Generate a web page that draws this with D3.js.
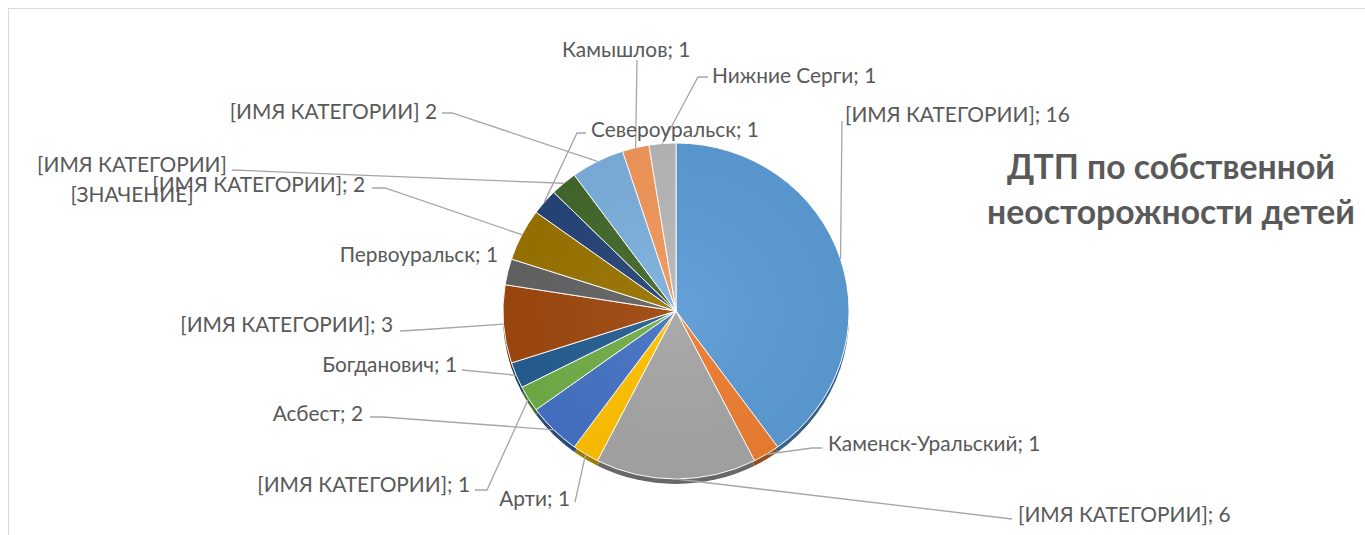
<!DOCTYPE html>
<html><head><meta charset="utf-8">
<script src="https://cdn.jsdelivr.net/npm/d3@7/dist/d3.min.js"></script>
<style>html,body{margin:0;padding:0;background:#fff;overflow:hidden}</style>
</head><body>
<svg id="c" width="1365" height="535"></svg>
<script>
// ---- data ----
const categories = ["[ИМЯ КАТЕГОРИИ]", "Каменск-Уральский", "[ИМЯ КАТЕГОРИИ]", "Арти", "Асбест",
  "[ИМЯ КАТЕГОРИИ]", "Богданович", "[ИМЯ КАТЕГОРИИ]", "Первоуральск", "[ИМЯ КАТЕГОРИИ]",
  "Североуральск", "[ИМЯ КАТЕГОРИИ]", "[ИМЯ КАТЕГОРИИ]", "Камышлов", "Нижние Серги"];
const values = [16, 1, 6, 1, 2, 1, 1, 3, 1, 2, 1, 1, 2, 1, 1];
const labelTexts = ["[ИМЯ КАТЕГОРИИ]; 16", "Каменск-Уральский; 1", "[ИМЯ КАТЕГОРИИ]; 6", "Арти; 1",
  "Асбест; 2", "[ИМЯ КАТЕГОРИИ]; 1", "Богданович; 1", "[ИМЯ КАТЕГОРИИ]; 3", "Первоуральск; 1",
  "[ИМЯ КАТЕГОРИИ]; 2", "Североуральск; 1", ["[ИМЯ КАТЕГОРИИ]", "[ЗНАЧЕНИЕ]"],
  "[ИМЯ КАТЕГОРИИ] 2", "Камышлов; 1", "Нижние Серги; 1"];
const titleLines = ["ДТП по собственной", "неосторожности детей"];
const colors = ["#5B9BD5", "#ED7D31", "#A5A5A5", "#FFC000", "#4472C4", "#70AD47", "#255E91",
  "#9E480E", "#636363", "#997300", "#264478", "#43682B", "#7CAFDD", "#F1975A", "#B7B7B7"];

// ---- layout (label placement, leader elbows) ----
const labelLayout = [
  {x: 845, y: 113, a: "start", pts: [[842, 121]]},
  {x: 828, y: 442, a: "start", pts: [[822, 448], [812, 448]]},
  {x: 1018, y: 513, a: "start", pts: [[1012, 519]]},
  {x: 570, y: 497, a: "end", pts: [[575, 502]]},
  {x: 363, y: 412, a: "end", pts: [[370, 417], [383, 417]]},
  {x: 470, y: 483, a: "end", pts: [[475, 490], [487, 490]]},
  {x: 457, y: 363, a: "end", pts: [[462, 370]]},
  {x: 393, y: 323, a: "end", pts: [[400, 331], [418, 330]]},
  {x: 498, y: 253, a: "end", pts: null},
  {x: 365, y: 183, a: "end", pts: [[372, 188], [385, 188]]},
  {x: 591, y: 128, a: "start", pts: [[586, 133], [577, 133]]},
  {x: 132, y: 163, a: "middle", pts: [[232, 170]], lh: 30},
  {x: 437, y: 110, a: "end", pts: [[442, 113], [452, 113]]},
  {x: 562, y: 48, a: "start", pts: [[637, 60]]},
  {x: 712, y: 74, a: "start", pts: [[708, 77], [698, 77]]}
];

const W = 1365, H = 535;
const cx = 676, cy = 311, rx = 173, ry = 168, depth = 5;
const svg = d3.select("#c");
const FONT = "Lato, 'Open Sans', sans-serif";
const textColor = "#595959";

function fit(text, weight, target) {
  const t = svg.append("text").attr("font-family", FONT).attr("font-weight", weight)
    .attr("font-size", 100).text(text);
  const w = t.node().getComputedTextLength();
  t.remove();
  return 100 * target / w;
}
const labelSize = fit("[ИМЯ КАТЕГОРИИ]; 16", "normal", 225);
const titleSize = fit(titleLines[1], "bold", 368);

// chart border
svg.append("rect").attr("x", 8.5).attr("y", 8.5).attr("width", W + 20).attr("height", H + 20)
  .attr("fill", "none").attr("stroke", "#d9d9d9").attr("stroke-width", 1);

const pie = d3.pie().sort(null).value(d => d).startAngle(0).endAngle(2 * Math.PI);
const arcs = pie(values);
const arc = d3.arc().innerRadius(0).outerRadius(rx);

// extrusion (side of 3D pie)
const sideG = svg.append("g").attr("transform", `translate(${cx},${cy + depth}) scale(1,${ry / rx})`);
sideG.selectAll("path").data(arcs).join("path")
  .attr("d", arc).attr("fill", (d, i) => d3.color(colors[i]).darker(1.3));

const topG = svg.append("g").attr("transform", `translate(${cx},${cy}) scale(1,${ry / rx})`);
topG.selectAll("path").data(arcs).join("path")
  .attr("d", arc).attr("fill", (d, i) => colors[i])
  .attr("stroke", "#ffffff").attr("stroke-width", 1).attr("vector-effect", "non-scaling-stroke");

// subtle shading overlay
const defs = svg.append("defs");
const rg = defs.append("radialGradient").attr("id", "shade").attr("cx", "50%").attr("cy", "50%").attr("r", "50%");
rg.append("stop").attr("offset", "0%").attr("stop-color", "#fff").attr("stop-opacity", 0.06);
rg.append("stop").attr("offset", "100%").attr("stop-color", "#000").attr("stop-opacity", 0.04);
svg.append("ellipse").attr("cx", cx).attr("cy", cy).attr("rx", rx).attr("ry", ry).attr("fill", "url(#shade)");

// leader lines
const lead = svg.append("g");
arcs.forEach((d, i) => {
  const L = labelLayout[i];
  if (!L.pts) return;
  const m = (d.startAngle + d.endAngle) / 2;
  const end = [cx + rx * Math.sin(m), cy - ry * Math.cos(m)];
  const pts = L.pts.concat([end]);
  lead.append("path").attr("d", d3.line()(pts)).attr("fill", "none")
    .attr("stroke", "#a6a6a6").attr("stroke-width", 1.3);
});

// labels
const lab = svg.append("g").attr("font-family", FONT).attr("font-size", labelSize).attr("fill", textColor);
labelTexts.forEach((txt, i) => {
  const L = labelLayout[i];
  const lines = Array.isArray(txt) ? txt : [txt];
  lines.forEach((s, k) => {
    lab.append("text").attr("x", L.x).attr("y", L.y + k * (L.lh || 0))
      .attr("text-anchor", L.a).attr("dominant-baseline", "central").text(s);
  });
});

// title
const tg = svg.append("g").attr("font-family", FONT).attr("font-weight", "bold")
  .attr("font-size", titleSize).attr("fill", textColor).attr("text-anchor", "middle");
titleLines.forEach((s, k) => {
  tg.append("text").attr("x", 1171).attr("y", 179 + k * 45).text(s);
});
</script>
</body></html>
